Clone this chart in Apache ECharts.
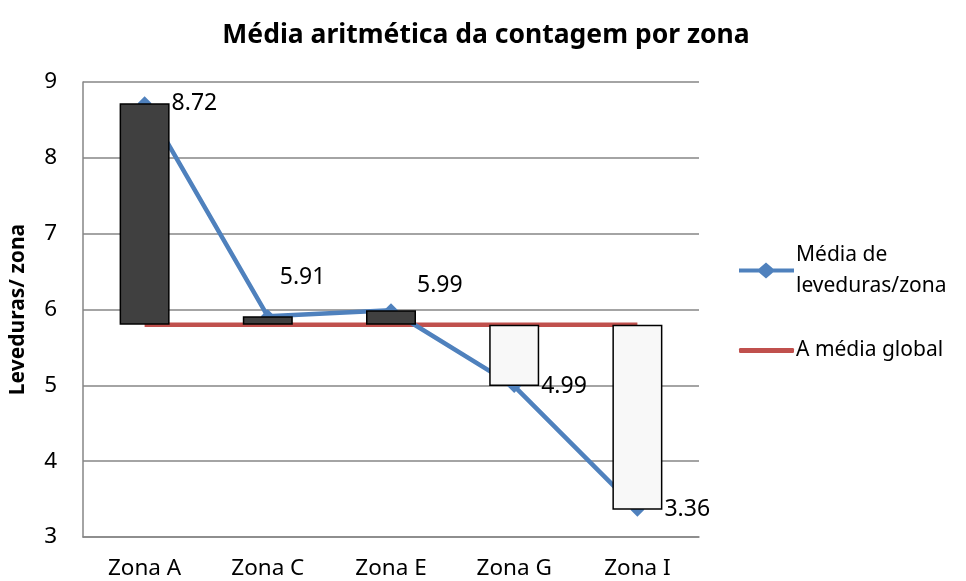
<!DOCTYPE html>
<html>
<head>
<meta charset="utf-8">
<script src="https://cdn.jsdelivr.net/npm/echarts@6/dist/echarts.min.js"></script>
<style>
  html, body { margin: 0; padding: 0; background: #fff; }
  #chart { width: 966px; height: 581px; }
</style>
</head>
<body>
<div id="chart"></div>
<script>
// dados
const zonas = ['Zona A', 'Zona C', 'Zona E', 'Zona G', 'Zona I']
const mediaZona = [8.72, 5.91, 5.99, 4.99, 3.36]
const mediaGlobal = [5.8, 5.8, 5.8, 5.8, 5.8]
const yTicks = { min: 3, max: 9, interval: 1 }

// barras up/down entre as duas linhas (base transparente + diferença)
const baseBar = mediaZona.map((v, i) => Math.min(v, mediaGlobal[i]))
const diffBar = mediaZona.map((v, i) => ({
  value: Math.abs(v - mediaGlobal[i]),
  itemStyle: { color: v >= mediaGlobal[i] ? '#404040' : '#f8f8f8' }
}))

// posição das etiquetas (como no Excel, algumas estão deslocadas)
const labelOffsets = [[0, 0], [-15, -39], [-1, -25], [0, 0], [0, 0]]

const font = 'Noto Sans'
const chart = echarts.init(document.getElementById('chart'))

chart.setOption({
  animation: false,
  title: {
    text: 'Média aritmética da contagem por zona',
    left: 481,
    textAlign: 'center',
    top: 17,
    textStyle: { fontFamily: font, fontSize: 26.5, fontWeight: 'bold', color: '#000' }
  },
  legend: [
    {
      data: [{ name: 'Média de leveduras/zona', icon: 'path://M0,6 L20,6 L27,0 L34,6 L55,6 L55,10 L34,10 L27,16 L20,10 L0,10 Z' }],
      left: 739,
      top: 224,
      padding: 0,
      itemWidth: 55,
      itemHeight: 16,
      formatter: n => n.replace(' leveduras', '\nleveduras'),
      textStyle: { fontFamily: font, fontSize: 21, color: '#000', lineHeight: 31, padding: [31, 0, 0, -3] }
    },
    {
      data: [{ name: 'A média global', icon: 'roundRect' }],
      left: 739,
      top: 335,
      padding: 0,
      itemWidth: 55,
      itemHeight: 5,
      textStyle: { fontFamily: font, fontSize: 21, color: '#000', lineHeight: 31, padding: [0, 0, 0, -3] }
    }
  ],
  grid: { left: 81, right: 267, top: 82, bottom: 44 },
  xAxis: {
    type: 'category',
    data: zonas,
    axisLine: { lineStyle: { color: '#868686', width: 1.5 } },
    axisTick: { show: false },
    axisLabel: { fontFamily: font, fontSize: 22.5, color: '#000', margin: 20 }
  },
  yAxis: {
    type: 'value',
    min: yTicks.min,
    max: yTicks.max,
    interval: yTicks.interval,
    name: 'Leveduras/ zona',
    nameLocation: 'middle',
    nameGap: 54,
    nameTextStyle: { fontFamily: font, fontSize: 21, fontWeight: 'bold', color: '#000' },
    axisLine: { show: true, lineStyle: { color: '#868686', width: 1.5 } },
    axisTick: { show: false },
    splitLine: { lineStyle: { color: '#868686', width: 1.5 } },
    axisLabel: { fontFamily: font, fontSize: 22.5, color: '#000', margin: 26 }
  },
  series: [
    {
      name: 'Média de leveduras/zona',
      type: 'line',
      z: 2,
      data: mediaZona.map((v, i) => ({
        value: v,
        label: { offset: labelOffsets[i] }
      })),
      symbol: 'diamond',
      symbolSize: 14,
      itemStyle: { color: '#4f81bd' },
      lineStyle: { color: '#4f81bd', width: 4.5 },
      label: {
        show: true,
        position: 'right',
        distance: 20,
        fontFamily: font,
        fontSize: 23,
        color: '#000',
        formatter: p => p.value.toFixed(2)
      }
    },
    {
      name: 'A média global',
      type: 'line',
      z: 1,
      data: mediaGlobal,
      symbol: 'none',
      itemStyle: { color: '#c0504d' },
      lineStyle: { color: '#c0504d', width: 4.5 }
    },
    {
      type: 'bar',
      stack: 'updown',
      z: 3,
      barWidth: 50,
      silent: true,
      data: baseBar,
      itemStyle: { color: 'transparent' }
    },
    {
      type: 'bar',
      stack: 'updown',
      z: 3,
      barWidth: 50,
      silent: true,
      data: diffBar,
      itemStyle: { borderColor: '#000', borderWidth: 1.5 }
    }
  ]
})
</script>
</body>
</html>
